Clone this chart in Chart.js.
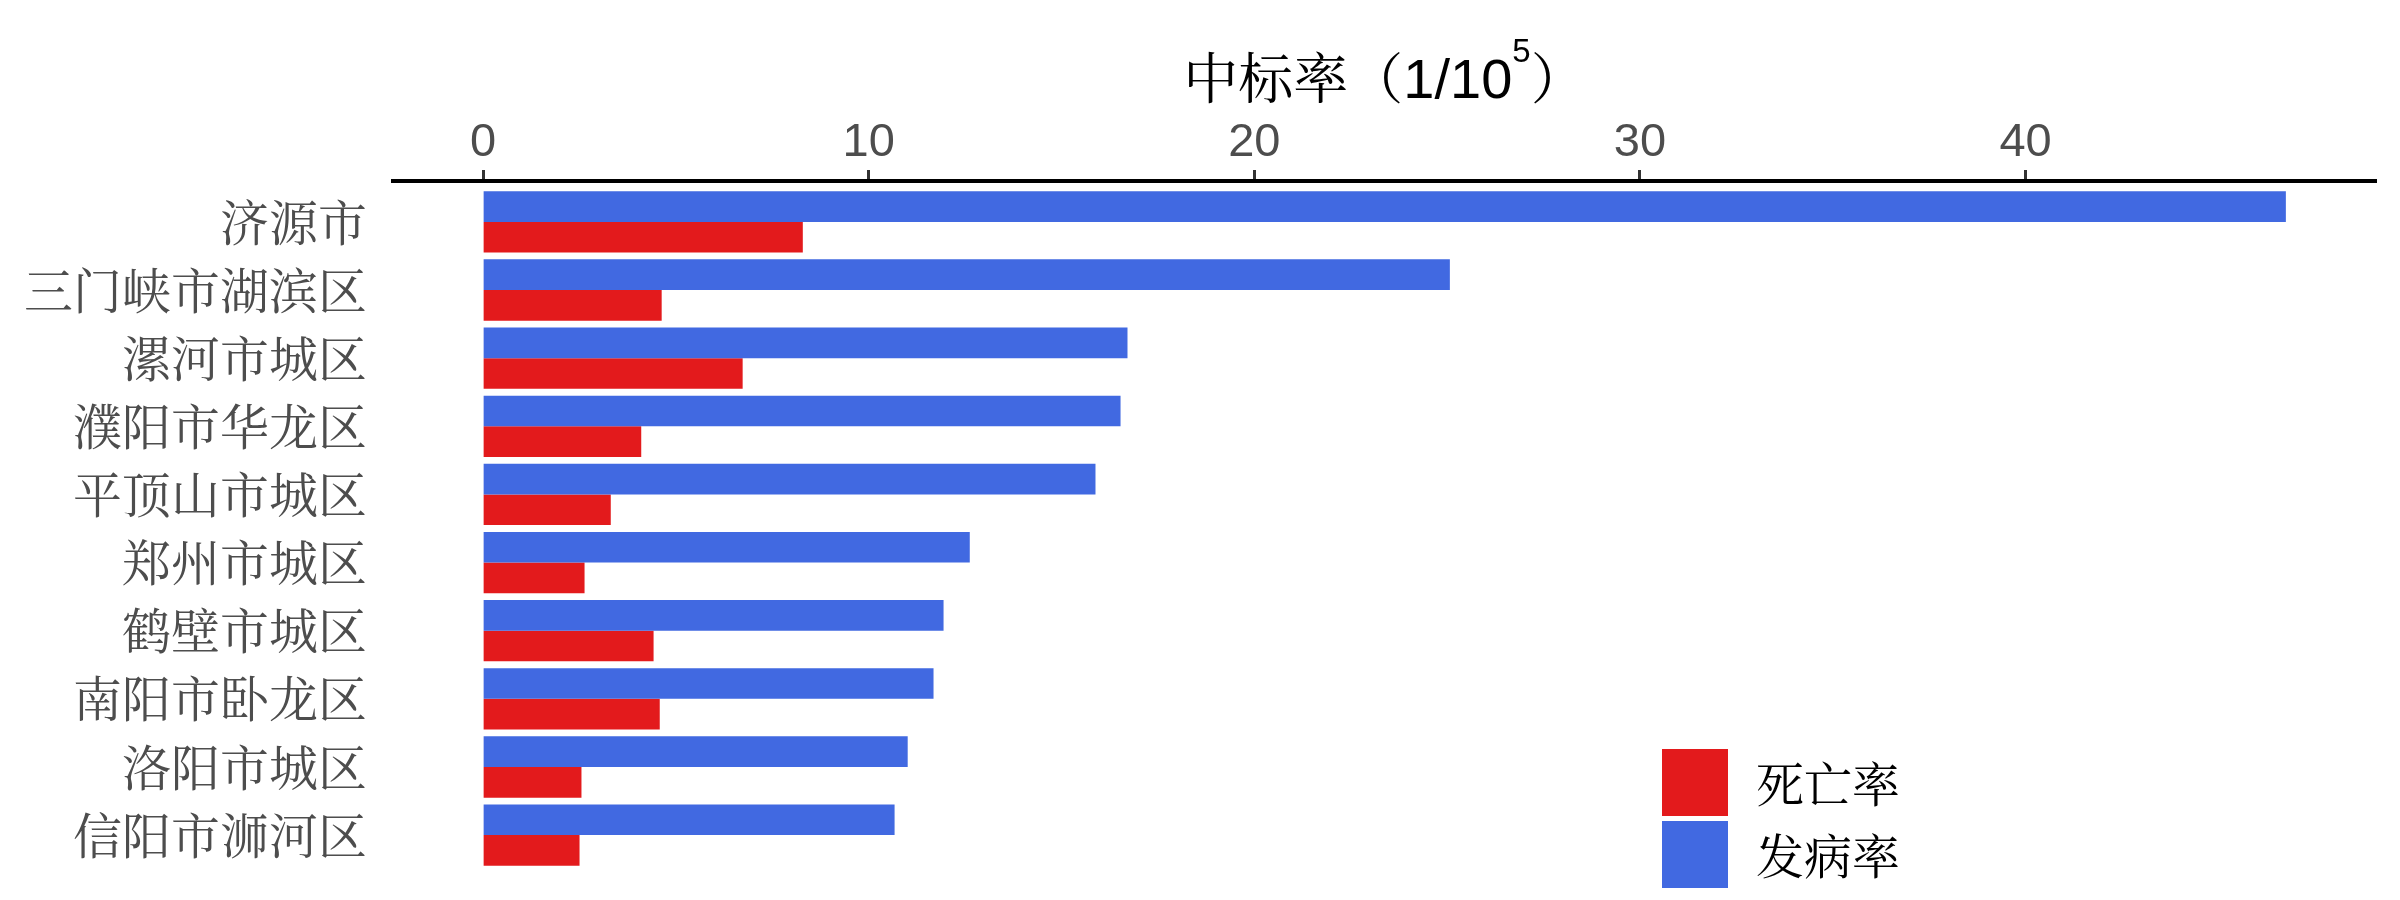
<!DOCTYPE html>
<html>
<head>
<meta charset="utf-8">
<script src="https://cdn.jsdelivr.net/npm/chart.js@4.4.1/dist/chart.umd.min.js"></script>
<style>
html, body { margin: 0; padding: 0; background: #fff; }
canvas { display: block; }
</style>
</head>
<body>
<canvas id="barChart" width="2400" height="900"></canvas>
<script>
// categories, top to bottom
var cities = ["济源市", "三门峡市湖滨区", "漯河市城区", "濮阳市华龙区", "平顶山市城区",
    "郑州市城区", "鹤壁市城区", "南阳市卧龙区", "洛阳市城区", "信阳市浉河区"];
var incidence = [46.75, 25.07, 16.71, 16.53, 15.88, 12.62, 11.94, 11.68, 11.01, 10.67];
var mortality = [8.29, 4.63, 6.73, 4.10, 3.31, 2.63, 4.42, 4.58, 2.55, 2.50];
var xTicks = [0, 10, 20, 30, 40];

var cjk = '"Noto Serif CJK SC", "Noto Sans CJK SC", serif';
var latin = '"Liberation Sans", Arial, sans-serif';

var maxVal = Math.max.apply(null, incidence);

// title with superscript and the stacked legend (ggplot style)
var extras = {
    id: "extras",
    afterDraw: function (chart) {
        var ctx = chart.ctx, area = chart.chartArea;
        ctx.save();
        ctx.fillStyle = "#000";
        ctx.textBaseline = "alphabetic";
        ctx.textAlign = "left";
        var parts = [
            { t: "中标率（", f: "55px " + cjk, dy: 0 },
            { t: "1/10", f: "56px " + latin, dy: 0 },
            { t: "5", f: "33px " + latin, dy: -36 },
            { t: "）", f: "55px " + cjk, dy: 0 }
        ];
        var total = 0;
        parts.forEach(function (p) {
            ctx.font = p.f;
            p.w = ctx.measureText(p.t).width;
            total += p.w;
        });
        var x = (area.left + area.right) / 2 - total / 2;
        parts.forEach(function (p) {
            ctx.font = p.f;
            ctx.fillText(p.t, x, 98 + p.dy);
            x += p.w;
        });

        // legend
        var items = chart.data.datasets.slice().reverse();
        ctx.font = "48px " + cjk;
        ctx.textBaseline = "middle";
        items.forEach(function (ds, i) {
            var top = 749 + i * 72;
            ctx.fillStyle = ds.backgroundColor;
            ctx.fillRect(1662, top, 66, 67);
            ctx.fillStyle = "#000";
            ctx.fillText(ds.label, 1756, top + 35);
        });
        ctx.restore();
    }
};

var ctxB = document.getElementById("barChart").getContext("2d");
var myBarChart = new Chart(ctxB, {
    type: "bar",
    data: {
        datasets: [
            {
                label: "发病率",
                data: incidence.map(function (v, i) { return { x: v, y: i }; }),
                backgroundColor: "#4169E1",
            },
            {
                label: "死亡率",
                data: mortality.map(function (v, i) { return { x: v, y: i }; }),
                backgroundColor: "#E31A1C",
            },
        ],
    },
    options: {
        indexAxis: "y",
        responsive: false,
        devicePixelRatio: 1,
        animation: false,
        datasets: { bar: { categoryPercentage: 0.9, barPercentage: 1.0 } },
        layout: { padding: { left: 0, right: 24, top: 0, bottom: 24 } },
        plugins: {
            legend: { display: false },
            title: { display: false },
            tooltip: { enabled: false },
        },
        scales: {
            x: {
                type: "linear",
                position: "top",
                min: -0.05 * maxVal,
                max: 1.05 * maxVal,
                afterBuildTicks: function (s) {
                    s.ticks = xTicks.map(function (v) { return { value: v }; });
                },
                afterFit: function (s) {
                    s.height = 181;
                    s.paddingLeft = 0;
                    s.paddingRight = 0;
                },
                grid: {
                    display: true,
                    drawOnChartArea: false,
                    drawTicks: true,
                    tickLength: 11,
                    tickWidth: 3,
                    tickColor: "#333",
                    color: "#333",
                },
                border: { display: true, color: "#000", width: 4 },
                ticks: {
                    font: { family: latin, size: 47, lineHeight: 1 },
                    color: "#4d4d4d",
                    padding: 3,
                    maxRotation: 0,
                },
            },
            y: {
                type: "linear",
                reverse: true,
                offset: false,
                min: -0.6,
                max: cities.length - 0.4,
                afterBuildTicks: function (s) {
                    s.ticks = cities.map(function (c, i) { return { value: i }; });
                },
                afterFit: function (s) {
                    s.width = 393;
                    s.paddingTop = 0;
                    s.paddingBottom = 0;
                },
                grid: { display: false, drawTicks: false, offset: false },
                border: { display: false },
                ticks: {
                    callback: function (v) { return cities[v]; },
                    autoSkip: false,
                    font: { family: cjk, size: 49, lineHeight: 1 },
                    color: "#4d4d4d",
                    padding: 26,
                },
            },
        },
    },
    plugins: [extras],
});
</script>
</body>
</html>
